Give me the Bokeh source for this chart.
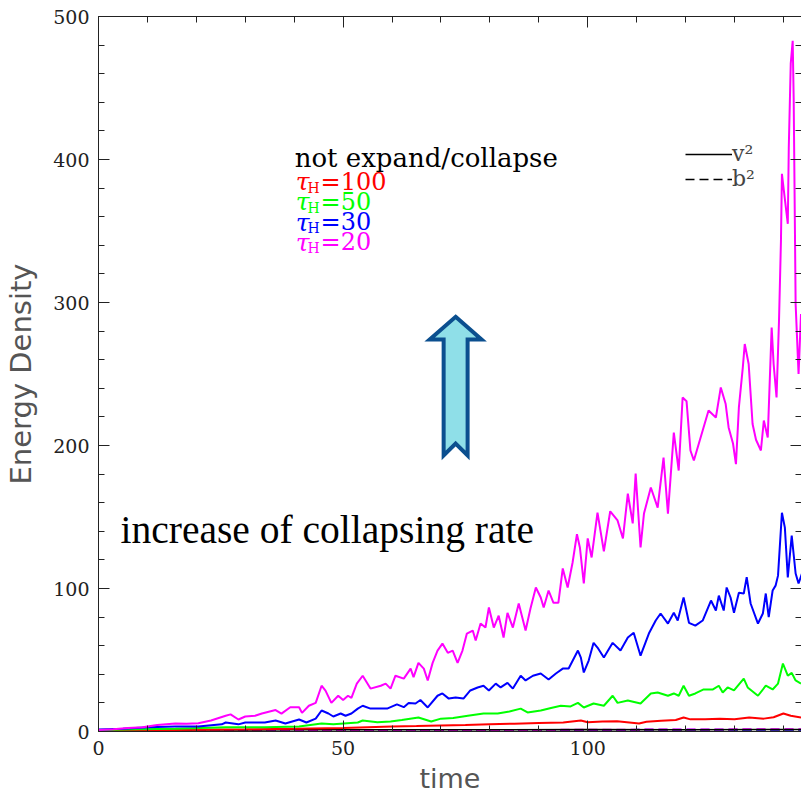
import math
from bokeh.plotting import figure
from bokeh.models import (Range1d, LinearAxis, SingleIntervalTicker, Label,
                          Legend, LegendItem)
from bokeh.embed import file_html
from bokeh.resources import INLINE

# ---------------- data ----------------
x_ticks_interval = 50
y_ticks_interval = 100

# tau_H = 20 (magenta), v^2
mag_t = [0, 3, 6, 9, 12, 15.7, 18, 20.4, 23, 26, 27, 28.6, 30, 32, 33.4, 36.2, 37.4,
         39.2, 41, 41.6, 43, 44.4, 45.6, 46.4, 47.6, 49, 50, 51, 51.7, 52.8, 54, 55.6,
         57.7, 58.7, 59.7, 60.7, 62.4, 63.8, 64.4, 65.4, 66.5, 67.3, 68.3, 69.3, 70.3,
         71.4, 72.4, 73.4, 74.4, 75.3, 76.5, 77.1, 78.1, 79.1, 79.8, 80.8, 81.8, 82.8,
         83.6, 84.7, 85.9, 87.3, 88.3, 89.4, 90.4, 91, 92, 93, 94, 94.9, 95.9, 96.9,
         97.8, 98.4, 99.2, 100, 100.8, 102, 103.3, 104.6, 106.1, 107.2, 108.2, 109.2,
         109.8, 110.8, 111.5, 112.9, 114.3, 115.5, 116.4, 117.6, 118.6, 119.4, 120.2,
         121, 121.7, 123.5, 124.7, 126.2, 127.2, 128.2, 128.8, 129.7, 130.3, 130.9,
         131.7, 132.1, 132.9, 133.7, 134.4, 135.4, 136, 136.8, 137.6, 138, 138.6,
         139.1, 139.5, 139.7, 140.1, 140.9, 141.1, 141.5, 141.9, 142.1, 142.5, 143.1,
         143.6]
mag_v2 = [1, 1.5, 2.5, 3, 4.5, 5.6, 5.5, 5.8, 7.7, 11, 12, 8.4, 10.5, 11, 12.6, 15, 12.5,
          17, 17, 13, 18, 20, 32, 28.6, 20, 25, 22, 25, 23.5, 33.5, 39, 30,
          32, 33.5, 30, 39, 37, 44, 38, 48, 44, 35.7, 48, 56.6, 61.5,
          55, 56.6, 48, 56.6, 68.5, 70.6, 63.6, 75.5, 72.7, 86.7, 72.7, 81, 65.7,
          83, 72.7, 89.5, 70.6, 86, 100.7, 93.7, 86.7, 98.6, 90, 90, 114, 100.7, 118,
          138, 128.7, 103.5, 135, 121.7, 153, 126, 154, 147.6, 135, 166.4, 145.5,
          180.4, 128.7, 152.4, 170.6, 156.6, 191.6, 152.4, 209, 182.5, 233.6, 231,
          196.5, 189.5, 210.5, 224.5, 219.6, 240.6, 229, 212.6, 201.4, 187, 226.6,
          254.5, 271, 257, 215, 204, 196.5, 217.5, 205.6, 282.5, 257, 233.6,
          287, 343, 390, 378, 355, 408, 467, 483, 443, 299, 250,
          292]

# tau_H = 30 (blue), v^2
blu_t = [0, 5, 10.2, 15.7, 20.4, 25.2, 26, 28.6, 30, 34, 36.2, 38.2, 41, 42.5, 44.4,
         45.6, 47, 48, 49.5, 50.5, 51.7, 53, 54, 55.6, 59, 61, 62.4, 63.4, 64.8, 65.8,
         67.3, 69.3, 70.3, 71.6, 73, 74.6, 76, 77.5, 78.7, 79.8, 81.2, 82.2, 83.6,
         84.7, 86.3, 87.3, 88.8, 90.4, 92, 93.5, 94.9, 96.1, 98, 98.6, 99.2, 100.2,
         101.2, 102, 103.3, 105.1, 106.7, 108.2, 109.4, 110.8, 112.5, 113.9, 114.9,
         116.4, 117.6, 118.4, 119.6, 120.7, 122, 123.5, 125.2, 126.2, 126.8, 127.8,
         128.4, 129.2, 129.9, 130.9, 131.9, 132.5, 133.3, 134.8, 135.8, 136.4, 137,
         137.8, 138.4, 138.9, 139.7, 140.3, 140.9, 141.7, 142.5, 143.1, 143.8]
blu_v2 = [1.4, 2, 3, 3.5, 3.5, 5, 6.3, 5, 6.3, 6.3, 7.7, 5.6, 8.4, 6.3, 9,
          14.7, 12.6, 10.5, 12.6, 11, 12.6, 16, 18, 16, 16, 19, 17, 20, 19.6, 22,
          16.8, 25, 26.6, 23, 23.8, 23, 28.7, 30.8, 32, 28.7, 33.5, 30.8, 34,
          30, 39, 35.7, 39, 40.6, 36.4, 40.6, 44, 44, 56.6, 51.7, 41.3, 49.6,
          62, 58.7, 51.7, 62, 56.6, 65.7, 69, 53, 68.5, 77.6, 82.5,
          75.5, 83, 77.6, 93.7, 76, 74, 77.6, 91.6, 84.6, 95, 84.6,
          100.7, 93.7, 83, 97, 96.5, 108, 89.5, 75.5, 82.5, 96.5, 80,
          98.6, 102, 109, 153, 142.6, 107.7, 137, 110.5, 103.5, 110.5]

# tau_H = 50 (green), v^2
grn_t = [0, 8, 15.7, 26, 34, 41, 45.6, 48, 53, 54, 57, 59.7, 62, 65.4, 68, 70, 72.5,
         75.5, 78.7, 81.6, 84, 86.3, 87.7, 90.4, 92.5, 94.5, 96.5, 98, 99.2, 101.2,
         103.3, 105.1, 106.1, 108.2, 110.8, 112.9, 114.3, 116.4, 117.6, 118.6, 119.6,
         120.7, 122, 123.7, 125.6, 126.8, 127.6, 128.6, 129.9, 131.9, 132.7, 134.8,
         136.4, 137.8, 138.9, 139.9, 140.9, 141.7, 142.5, 143.6]
grn_v2 = [1, 1.5, 2, 3, 3, 3.5, 5.6, 5, 6.3, 7.7, 6.5, 7, 8, 9.8, 7, 9, 9.5,
          11, 12.6, 12.6, 14, 16, 13.3, 14.7, 16.5, 18, 17.5, 20, 16.8, 19.6,
          18, 25, 20, 21.7, 19.6, 26.6, 27.3, 25, 26.6, 25, 32,
          25, 26.6, 29.4, 29.4, 32, 27.3, 30.8, 28.7, 37, 30.8, 25,
          32, 29.4, 33.5, 47.5, 39, 41, 35.7, 33.5]

# tau_H = 100 (red), v^2
red_t = [0, 10, 20, 30, 40, 50, 55, 60, 65, 70, 75, 80, 85, 90, 95, 98.6, 100, 103,
         106, 108, 110.5, 112, 115, 118, 119.6, 121, 124, 127, 130, 133, 136, 138,
         140, 141.5, 143.6]
red_v2 = [0.5, 0.8, 1.2, 1.5, 2, 2.5, 3, 3.5, 3.8, 4.2, 4.5, 5, 5.5, 6, 6.3, 7.7, 6.5,
          7, 7.2, 6.5, 5.6, 6.8, 7.5, 8, 9.8, 8.5, 8.5, 9, 8.5, 9.8, 9, 10,
          12.6, 11, 9.8]

# not expand/collapse (black), v^2
blk_t = [0, 20, 40, 60, 80, 100, 120, 143.6]
blk_v2 = [0.8, 1.0, 1.2, 1.3, 1.2, 1.4, 1.3, 1.4]

# b^2 (dashed) for every case
b2_t = [0, 30, 60, 90, 120, 143.6]
blk_b2 = [0.3, 0.5, 0.6, 0.6, 0.7, 0.7]
red_b2 = [0.3, 0.5, 0.7, 0.8, 0.9, 1.0]
grn_b2 = [0.3, 0.5, 0.7, 0.9, 1.0, 1.1]
blu_b2 = [0.3, 0.5, 0.8, 1.0, 1.2, 1.3]
mag_b2 = [0.3, 0.6, 0.9, 1.1, 1.4, 1.6]

legend_rows = ["100", "50", "30", "20"]
legend_colors = ["#ff0000", "#00ff00", "#0000ff", "#ff00ff"]

# ---------------- figure ----------------
p = figure(width=801, height=798, output_backend="svg", toolbar_location=None,
           x_range=Range1d(0, 143.7), y_range=Range1d(0, 500),
           x_axis_location=None, y_axis_location=None,
           min_border_left=98, min_border_right=0, min_border_top=16,
           min_border_bottom=67)
p.outline_line_color = None
p.xgrid.grid_line_color = None
p.ygrid.grid_line_color = None
p.background_fill_color = "white"
p.border_fill_color = "white"

SERIF = "DejaVu Serif"


def style_axis(ax, labels=True):
    ax.major_tick_in = 11
    ax.major_tick_out = 0
    ax.minor_tick_in = 6
    ax.minor_tick_out = 0
    ax.axis_line_color = "#222222"
    ax.major_tick_line_color = "#222222"
    ax.minor_tick_line_color = "#222222"
    if labels:
        ax.major_label_text_font = SERIF
        ax.major_label_text_font_size = "19px"
        ax.major_label_text_color = "#222222"
        ax.major_label_standoff = 9
        ax.axis_label_text_font = "DejaVu Sans"
        ax.axis_label_text_font_size = "27px"
        ax.axis_label_text_font_style = "normal"
        ax.axis_label_text_color = "#555555"
    else:
        ax.major_label_text_font_size = "1px"
        ax.major_label_text_color = None
        ax.major_label_standoff = 0


xb = LinearAxis(ticker=SingleIntervalTicker(interval=x_ticks_interval, num_minor_ticks=5),
                axis_label="time")
style_axis(xb)
xb.axis_label_standoff = 5
p.add_layout(xb, "below")
xt = LinearAxis(ticker=SingleIntervalTicker(interval=x_ticks_interval, num_minor_ticks=5))
style_axis(xt, labels=False)
p.add_layout(xt, "above")
yl = LinearAxis(ticker=SingleIntervalTicker(interval=y_ticks_interval, num_minor_ticks=5),
                axis_label="Energy Density")
style_axis(yl)
yl.axis_label_text_font_size = "29px"
yl.axis_label_standoff = 12
p.add_layout(yl, "left")
yr = LinearAxis(ticker=SingleIntervalTicker(interval=y_ticks_interval, num_minor_ticks=5))
style_axis(yr, labels=False)
yr.axis_line_color = None
p.add_layout(yr, "right")

# dashed b^2 lines
dash = "9 5"
b_blk = p.line(b2_t, blk_b2, line_color="black", line_width=1.5, line_dash=dash)
p.line(b2_t, red_b2, line_color="#ff0000", line_width=2, line_dash=dash)
p.line(b2_t, grn_b2, line_color="#00ff00", line_width=2, line_dash=dash)
p.line(b2_t, blu_b2, line_color="#0000ff", line_width=2, line_dash=dash)
p.line(b2_t, mag_b2, line_color="#ff00ff", line_width=2, line_dash=dash)

# solid v^2 lines
v_blk = p.line(blk_t, blk_v2, line_color="black", line_width=1.5)
p.line(red_t, red_v2, line_color="#ff0000", line_width=2)
p.line(grn_t, grn_v2, line_color="#00ff00", line_width=2)
p.line(blu_t, blu_v2, line_color="#0000ff", line_width=2)
p.line(mag_t, mag_v2, line_color="#ff00ff", line_width=2)

# v^2 / b^2 key (location = bottom-left corner, from frame's bottom-left)
leg = Legend(items=[LegendItem(label="v²", renderers=[v_blk]),
                    LegendItem(label="b²", renderers=[b_blk])],
             location=(587, 540))
leg.border_line_color = None
leg.background_fill_alpha = 0
leg.label_text_font = SERIF
leg.label_text_font_size = "22px"
leg.glyph_width = 47
leg.glyph_height = 20
leg.label_height = 20
leg.label_standoff = 0
leg.spacing = 0
leg.padding = 0
leg.margin = 0
p.add_layout(leg)

# case key (text)
p.add_layout(Label(x=40.1, y=400.7, text="not expand/collapse", text_font=SERIF,
                   text_font_size="26px", text_color="black",
                   text_baseline="alphabetic"))
row_y = [384.6, 370.3, 356.0, 342.0]
for lbl, col, yy in zip(legend_rows, legend_colors, row_y):
    p.add_layout(Label(x=40.3, y=yy, text="τ", text_font=SERIF, text_font_style="italic",
                       text_font_size="25px", text_color=col, text_baseline="alphabetic"))
    p.add_layout(Label(x=42.7, y=yy - 4.2, text="H", text_font=SERIF,
                       text_font_size="14px", text_color=col, text_baseline="alphabetic"))
    p.add_layout(Label(x=45.4, y=yy, text="=" + lbl, text_font=SERIF,
                       text_font_size="24px", text_color=col, text_baseline="alphabetic"))

# annotation arrow
ax_c, ax_tip, ax_headb, ax_bot, ax_notch = 73.0, 290.0, 274.1, 193.0, 201.4
ax_hw, ax_sw = 5.3, 2.45
arrow_x = [ax_c, ax_c + ax_hw, ax_c + ax_sw, ax_c + ax_sw, ax_c, ax_c - ax_sw,
           ax_c - ax_sw, ax_c - ax_hw]
arrow_y = [ax_tip, ax_headb, ax_headb, ax_bot, ax_notch, ax_bot, ax_headb, ax_headb]
p.patch(arrow_x, arrow_y, fill_color="#8fdfe8", line_color="#0b4f8f", line_width=4,
        line_join="miter")

p.add_layout(Label(x=4.5, y=140.6, text="increase of collapsing rate",
                   text_font="Liberation Serif", text_font_size="39.5px",
                   text_color="black", text_baseline="alphabetic"))

open("out.html", "w").write(file_html(p, INLINE))
